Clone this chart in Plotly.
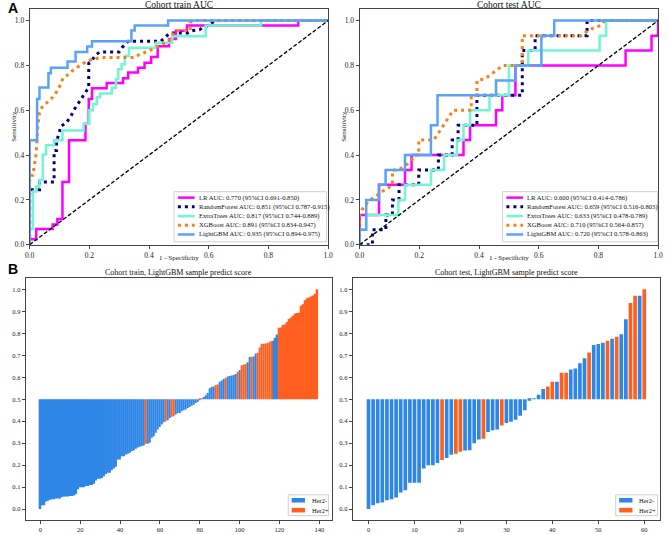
import plotly.graph_objects as go

# ---------------- ROC curves, train cohort ----------------
train_lr_fpr = [0, 0, 0.022, 0.022, 0.077, 0.077, 0.093, 0.093, 0.11, 0.11, 0.132, 0.132, 0.187, 0.187, 0.198, 0.198,
                0.209, 0.209, 0.258, 0.258, 0.313, 0.313, 0.33, 0.33, 0.363, 0.363, 0.385, 0.385, 0.407, 0.407,
                0.429, 0.429, 0.467, 0.467, 0.49, 0.49, 0.527, 0.527, 0.9, 0.9, 1.0]
train_lr_tpr = [0, 0.024, 0.024, 0.07, 0.07, 0.09, 0.09, 0.115, 0.115, 0.28, 0.28, 0.466, 0.466, 0.54, 0.54, 0.65,
                0.65, 0.698, 0.698, 0.722, 0.722, 0.743, 0.743, 0.768, 0.768, 0.79, 0.79, 0.812, 0.812, 0.838,
                0.838, 0.886, 0.886, 0.918, 0.918, 0.955, 0.955, 0.978, 0.978, 1.0, 1.0]

train_rf_fpr = [0, 0, 0.033, 0.033, 0.082, 0.082, 0.09, 0.09, 0.099, 0.105, 0.12, 0.137, 0.148, 0.16, 0.17, 0.181,
                0.192, 0.198, 0.198, 0.21, 0.22, 0.235, 0.3, 0.31, 0.325, 0.33, 0.44, 0.46, 0.47, 0.53, 0.545,
                0.57, 0.585, 0.6, 0.62, 1.0]
train_rf_tpr = [0, 0.245, 0.245, 0.28, 0.28, 0.42, 0.42, 0.46, 0.5, 0.53, 0.54, 0.57, 0.6, 0.625, 0.65, 0.672,
                0.69, 0.7, 0.81, 0.825, 0.845, 0.86, 0.86, 0.88, 0.9, 0.908, 0.908, 0.93, 0.945, 0.945, 0.955,
                0.96, 0.975, 0.978, 1.0, 1.0]

train_et_fpr = [0, 0, 0.011, 0.011, 0.022, 0.022, 0.033, 0.033, 0.044, 0.044, 0.055, 0.055, 0.082, 0.082, 0.11,
                0.11, 0.181, 0.181, 0.2, 0.2, 0.212, 0.212, 0.225, 0.225, 0.236, 0.236, 0.275, 0.275, 0.289,
                0.289, 0.297, 0.297, 0.308, 0.308, 0.319, 0.319, 0.333, 0.333, 0.423, 0.423, 0.478, 0.478, 0.59,
                0.59, 0.775, 0.775, 1.0]
train_et_tpr = [0, 0.07, 0.07, 0.237, 0.237, 0.26, 0.26, 0.29, 0.29, 0.403, 0.403, 0.444, 0.444, 0.466, 0.466,
                0.51, 0.51, 0.54, 0.54, 0.6, 0.6, 0.628, 0.628, 0.658, 0.658, 0.675, 0.675, 0.7, 0.7, 0.739,
                0.739, 0.783, 0.783, 0.805, 0.805, 0.842, 0.842, 0.879, 0.879, 0.901, 0.901, 0.93, 0.93, 0.978,
                0.978, 1.0, 1.0]

train_xgb_fpr = [0, 0, 0.011, 0.016, 0.022, 0.027, 0.033, 0.044, 0.06, 0.077, 0.093, 0.104, 0.113, 0.132, 0.148,
                 0.176, 0.192, 0.236, 0.352, 0.368, 0.4, 0.42, 0.445, 0.467, 0.48, 0.49, 0.538, 0.538, 0.545, 1.0]
train_xgb_tpr = [0, 0.31, 0.31, 0.363, 0.41, 0.52, 0.59, 0.62, 0.636, 0.658, 0.687, 0.717, 0.746, 0.761, 0.783,
                 0.805, 0.82, 0.835, 0.835, 0.85, 0.864, 0.88, 0.894, 0.909, 0.94, 0.956, 0.956, 0.99, 1.0, 1.0]

train_lgbm_fpr = [0, 0, 0.025, 0.025, 0.033, 0.033, 0.063, 0.063, 0.071, 0.071, 0.127, 0.127, 0.154, 0.154, 0.193,
                  0.193, 0.209, 0.209, 0.341, 0.341, 0.352, 0.352, 0.464, 0.464, 1.0]
train_lgbm_tpr = [0, 0.466, 0.466, 0.65, 0.65, 0.702, 0.702, 0.765, 0.765, 0.79, 0.79, 0.817, 0.817, 0.86, 0.86,
                  0.884, 0.884, 0.908, 0.908, 0.956, 0.956, 0.978, 0.978, 1.0, 1.0]

# ---------------- ROC curves, test cohort ----------------
test_lr_fpr = [0, 0, 0.065, 0.065, 0.152, 0.152, 0.174, 0.174, 0.348, 0.348, 0.37, 0.37, 0.457, 0.457, 0.478,
               0.478, 0.522, 0.522, 0.891, 0.891, 0.978, 0.978, 1.0, 1.0]
test_lr_tpr = [0, 0.133, 0.133, 0.267, 0.267, 0.333, 0.333, 0.4, 0.4, 0.467, 0.467, 0.533, 0.533, 0.6, 0.6,
               0.667, 0.667, 0.8, 0.8, 0.867, 0.867, 0.933, 0.933, 1.0]

test_rf_fpr = [0, 0.043, 0.043, 0.088, 0.088, 0.11, 0.11, 0.132, 0.132, 0.198, 0.198, 0.264, 0.264, 0.31, 0.31,
               0.33, 0.33, 0.393, 0.393, 0.545, 0.545, 0.588, 0.588, 0.762, 0.762, 1.0]
test_rf_tpr = [0, 0, 0.067, 0.067, 0.133, 0.133, 0.2, 0.2, 0.267, 0.267, 0.333, 0.333, 0.4, 0.4, 0.467, 0.467,
               0.533, 0.533, 0.667, 0.667, 0.867, 0.867, 0.933, 0.933, 1.0, 1.0]

test_et_fpr = [0, 0, 0.022, 0.022, 0.13, 0.13, 0.152, 0.152, 0.239, 0.239, 0.283, 0.283, 0.326, 0.326, 0.348,
               0.348, 0.37, 0.37, 0.435, 0.435, 0.5, 0.5, 0.565, 0.565, 0.804, 0.804, 0.826, 0.826, 1.0]
test_et_tpr = [0, 0.067, 0.067, 0.133, 0.133, 0.2, 0.2, 0.267, 0.267, 0.333, 0.333, 0.4, 0.4, 0.467, 0.467,
               0.533, 0.533, 0.6, 0.6, 0.667, 0.667, 0.8, 0.8, 0.867, 0.867, 0.933, 0.933, 1.0, 1.0]

test_xgb_fpr = [0, 0, 0.008, 0.022, 0.033, 0.055, 0.07, 0.088, 0.11, 0.11, 0.13, 0.16, 0.176, 0.187, 0.198, 0.198,
                0.248, 0.26, 0.275, 0.29, 0.3, 0.314, 0.374, 0.374, 0.393, 0.393, 0.42, 0.44, 0.46, 0.48, 0.545,
                0.545, 0.743, 0.76, 0.78, 0.81, 0.82, 1.0]
test_xgb_tpr = [0, 0.133, 0.156, 0.18, 0.2, 0.215, 0.235, 0.245, 0.267, 0.333, 0.333, 0.36, 0.38, 0.4, 0.4, 0.467,
                0.467, 0.49, 0.52, 0.55, 0.57, 0.6, 0.6, 0.667, 0.667, 0.733, 0.74, 0.76, 0.78, 0.8, 0.8,
                0.933, 0.933, 0.95, 0.965, 0.98, 1.0, 1.0]

test_lgbm_fpr = [0, 0, 0.022, 0.022, 0.065, 0.065, 0.087, 0.087, 0.152, 0.152, 0.239, 0.239, 0.261, 0.261, 0.457,
                 0.457, 0.522, 0.522, 0.609, 0.609, 0.652, 0.652, 1.0]
test_lgbm_tpr = [0, 0.067, 0.067, 0.2, 0.2, 0.267, 0.267, 0.333, 0.333, 0.4, 0.4, 0.533, 0.533, 0.667, 0.667,
                 0.733, 0.733, 0.8, 0.8, 0.933, 0.933, 1.0, 1.0]

model_names = ["LR", "RandomForest", "ExtraTrees", "XGBoost", "LightGBM"]
train_auc_labels = ["AUC: 0.770 (95%CI 0.691-0.850)", "AUC: 0.851 (95%CI 0.787-0.915)",
                    "AUC: 0.817 (95%CI 0.744-0.889)", "AUC: 0.891 (95%CI 0.834-0.947)",
                    "AUC: 0.935 (95%CI 0.894-0.975)"]
test_auc_labels = ["AUC: 0.600 (95%CI 0.414-0.786)", "AUC: 0.659 (95%CI 0.516-0.803)",
                   "AUC: 0.633 (95%CI 0.478-0.789)", "AUC: 0.710 (95%CI 0.564-0.857)",
                   "AUC: 0.720 (95%CI 0.578-0.863)"]
model_colors = ["#FF00FF", "#000080", "#72F5D2", "#FF7F0E", "#5AA2F7"]
model_dashes = ["solid", "3px,4px", "solid", "3px,4px", "solid"]

# ---------------- LightGBM sample scores ----------------
train_scores = [0.0, 0.018, 0.018, 0.035, 0.038, 0.042, 0.045, 0.045, 0.048, 0.048,
                0.048, 0.055, 0.057, 0.057, 0.057, 0.06, 0.06, 0.062, 0.068, 0.09,
                0.1, 0.1, 0.1, 0.105, 0.105, 0.11, 0.11, 0.115, 0.13, 0.138,
                0.138, 0.142, 0.15, 0.16, 0.165, 0.165, 0.178, 0.185, 0.193, 0.226,
                0.226, 0.24, 0.24, 0.248, 0.252, 0.256, 0.264, 0.267, 0.275, 0.28,
                0.284, 0.287, 0.29, 0.297, 0.297, 0.302, 0.325, 0.332, 0.347, 0.362,
                0.374, 0.385, 0.395, 0.4, 0.404, 0.415, 0.42, 0.422, 0.43, 0.437,
                0.437, 0.445, 0.45, 0.453, 0.46, 0.465, 0.47, 0.475, 0.483, 0.487,
                0.495, 0.503, 0.51, 0.518, 0.528, 0.55, 0.556, 0.558, 0.565, 0.567,
                0.58, 0.585, 0.592, 0.598, 0.604, 0.606, 0.608, 0.61, 0.615, 0.625,
                0.633, 0.655, 0.657, 0.66, 0.668, 0.692, 0.693, 0.695, 0.708, 0.712,
                0.735, 0.752, 0.752, 0.754, 0.756, 0.762, 0.765, 0.766, 0.78, 0.795,
                0.825, 0.826, 0.838, 0.84, 0.852, 0.865, 0.872, 0.88, 0.89, 0.892,
                0.893, 0.925, 0.932, 0.95, 0.96, 0.963, 0.968, 0.972, 0.98, 1.0]
train_labels = [0] * 53 + [1] + [0] * 9 + [1] + [0, 0] + [1, 1] + [0] * 12 + [1] + \
               [0] * 7 + [1, 1] + [0, 0, 0] + [1] + [0] * 5 + [1] + [0] + [1, 1, 1] + [0, 0] + [1] + [0, 0] + \
               [1] * 8 + [0, 0, 0] + [1] * 20

test_scores = [0.0, 0.018, 0.027, 0.03, 0.04, 0.045, 0.053, 0.075, 0.086, 0.12,
               0.12, 0.12, 0.185, 0.2, 0.2, 0.21, 0.223, 0.232, 0.247, 0.252,
               0.261, 0.267, 0.268, 0.3, 0.317, 0.32, 0.351, 0.359, 0.362, 0.38,
               0.392, 0.398, 0.407, 0.425, 0.45, 0.493, 0.503, 0.52, 0.546, 0.558,
               0.58, 0.58, 0.62, 0.62, 0.635, 0.64, 0.664, 0.686, 0.713, 0.747,
               0.751, 0.757, 0.766, 0.775, 0.784, 0.796, 0.864, 0.938, 0.971, 0.971, 1.0]
test_pos_idx = [16, 19, 20, 25, 29, 39, 40, 42, 43, 48, 52, 54, 57, 58, 60]
test_labels = [1 if i in test_pos_idx else 0 for i in range(len(test_scores))]

class_names = ["Her2-", "Her2+"]
class_colors = ["#2E86E6", "#FF5F1F"]
threshold = 0.5

W, H = 669, 535
SERIF = "Liberation Serif"
AX = "#444444"


def fx(p):
    return p / W


def fy(p):
    return 1 - p / H


fig = go.Figure()

roc_sets = [
    ("x", "y", [(train_lr_fpr, train_lr_tpr), (train_rf_fpr, train_rf_tpr), (train_et_fpr, train_et_tpr),
                (train_xgb_fpr, train_xgb_tpr), (train_lgbm_fpr, train_lgbm_tpr)], train_auc_labels),
    ("x2", "y2", [(test_lr_fpr, test_lr_tpr), (test_rf_fpr, test_rf_tpr), (test_et_fpr, test_et_tpr),
                  (test_xgb_fpr, test_xgb_tpr), (test_lgbm_fpr, test_lgbm_tpr)], test_auc_labels),
]
for xa, ya, curves, labels in roc_sets:
    for (fpr, tpr), name, col, dash, lab in zip(curves, model_names, model_colors, model_dashes, labels):
        fig.add_trace(go.Scatter(x=fpr, y=tpr, mode="lines", xaxis=xa, yaxis=ya, showlegend=False,
                                 name=f"{name} {lab}",
                                 line=dict(color=col, width=2.5 if dash == "solid" else 3, dash=dash)))
    fig.add_trace(go.Scatter(x=[0, 1], y=[0, 1], mode="lines", xaxis=xa, yaxis=ya, showlegend=False,
                             line=dict(color="black", width=1.3, dash="4px,2px")))

for xa, ya, scores, labels in [("x3", "y3", train_scores, train_labels), ("x4", "y4", test_scores, test_labels)]:
    for cls in (0, 1):
        idx = [i for i, l in enumerate(labels) if l == cls]
        fig.add_trace(go.Bar(x=idx, y=[scores[i] - threshold for i in idx], base=threshold,
                             xaxis=xa, yaxis=ya, width=0.8, showlegend=False, name=class_names[cls],
                             marker=dict(color=class_colors[cls], line=dict(width=0))))

tickfont_top = dict(family=SERIF, size=7.5, color="#222")
tickfont_bot = dict(family=SERIF, size=6.5, color="#222")
common = dict(showline=True, linecolor=AX, linewidth=1, mirror=True, ticks="outside", ticklen=3,
              tickcolor=AX, showgrid=False, zeroline=False)

fig.update_layout(
    width=W, height=H, margin=dict(l=0, r=0, t=0, b=0),
    paper_bgcolor="white", plot_bgcolor="white", barmode="overlay",
    xaxis=dict(domain=[fx(25), fx(328)], anchor="y", range=[0, 1], tickvals=[0, 0.2, 0.4, 0.6, 0.8, 1.0],
               tickformat=".1f", tickfont=tickfont_top, **common),
    yaxis=dict(domain=[fy(247), fy(9.5)], anchor="x", range=[0, 1.05], tickvals=[0, 0.2, 0.4, 0.6, 0.8, 1.0],
               tickformat=".1f", tickfont=tickfont_top, **common),
    xaxis2=dict(domain=[fx(360), fx(663)], anchor="y2", range=[0, 1], tickvals=[0, 0.2, 0.4, 0.6, 0.8, 1.0],
                tickformat=".1f", tickfont=tickfont_top, **common),
    yaxis2=dict(domain=[fy(247), fy(9.5)], anchor="x2", range=[0, 1.05], tickvals=[0, 0.2, 0.4, 0.6, 0.8, 1.0],
                tickformat=".1f", tickfont=tickfont_top, **common),
    xaxis3=dict(domain=[fx(21), fx(332)], anchor="y3", range=[-7.4, 146.4], tickvals=list(range(0, 141, 20)),
                tickfont=tickfont_bot, **common),
    yaxis3=dict(domain=[fy(525), fy(281)], anchor="x3", range=[-0.05, 1.05], tickvals=[i / 10 for i in range(11)],
                tickformat=".1f", tickfont=tickfont_bot, **common),
    xaxis4=dict(domain=[fx(353), fx(665)], anchor="y4", range=[-3.44, 63.44], tickvals=list(range(0, 61, 10)),
                tickfont=tickfont_bot, **common),
    yaxis4=dict(domain=[fy(525), fy(281)], anchor="x4", range=[-0.05, 1.05], tickvals=[i / 10 for i in range(11)],
                tickformat=".1f", tickfont=tickfont_bot, **common),
)

ann = []
shapes = []


def text(x, y, s, size, xanchor="center", family=SERIF, angle=0, bold=False, color="#111"):
    ann.append(dict(x=fx(x), y=fy(y), xref="paper", yref="paper", text=f"<b>{s}</b>" if bold else s,
                    showarrow=False, xanchor=xanchor, yanchor="middle", textangle=angle,
                    font=dict(family=family, size=size, color=color)))


# panel letters & titles
text(1, 8.5, "A", 14, xanchor="left", family="Liberation Sans", bold=True, color="black")
text(1, 271.5, "B", 14, xanchor="left", family="Liberation Sans", bold=True, color="black")
text(176.5, 5, "Cohort train AUC", 9.5)
text(511.5, 5, "Cohort test AUC", 9.5)
text(176.5, 275, "Cohort train, LightGBM sample predict score", 8)
text(509, 275, "Cohort test, LightGBM sample predict score", 8)
for cx in (176.5, 511.5):
    text(cx, 260, "1 - Specificity", 7)
for lx in (9, 344):
    text(lx, 128, "Sensitivity", 7, angle=-90)

# ROC legends
for box_l, box_r, labels in [(171.5, 326.5, train_auc_labels), (505, 662.5, test_auc_labels)]:
    shapes.append(dict(type="rect", xref="paper", yref="paper", x0=fx(box_l), x1=fx(box_r), y0=fy(244),
                       y1=fy(193.5), line=dict(color="#d0d0d0", width=1), fillcolor="rgba(255,255,255,0.85)",
                       layer="above"))
    for k, (name, col, dash, lab) in enumerate(zip(model_names, model_colors, model_dashes, labels)):
        yy = 199.5 + k * 9.3
        shapes.append(dict(type="line", xref="paper", yref="paper", x0=fx(box_l + 4), x1=fx(box_l + 21),
                           y0=fy(yy), y1=fy(yy), layer="above",
                           line=dict(color=col, width=2.5 if dash == "solid" else 3, dash=dash)))
        text(box_l + 23, yy, f"{name} {lab}", 6.6, xanchor="left")

# bar legends
for box_l, box_r in [(287.5, 328.5), (620, 662.5)]:
    shapes.append(dict(type="rect", xref="paper", yref="paper", x0=fx(box_l), x1=fx(box_r), y0=fy(520.5),
                       y1=fy(499.5), line=dict(color="#d0d0d0", width=1), fillcolor="rgba(255,255,255,0.85)",
                       layer="above"))
    for k, (name, col) in enumerate(zip(class_names, class_colors)):
        yy = 505 + k * 10
        shapes.append(dict(type="rect", xref="paper", yref="paper", x0=fx(box_l + 3.5), x1=fx(box_l + 17),
                           y0=fy(yy + 2.3), y1=fy(yy - 2.3), fillcolor=col, line=dict(width=0), layer="above"))
        text(box_l + 22, yy, name, 6.5, xanchor="left")

fig.update_layout(annotations=ann, shapes=shapes)
fig.write_html("out.html")
